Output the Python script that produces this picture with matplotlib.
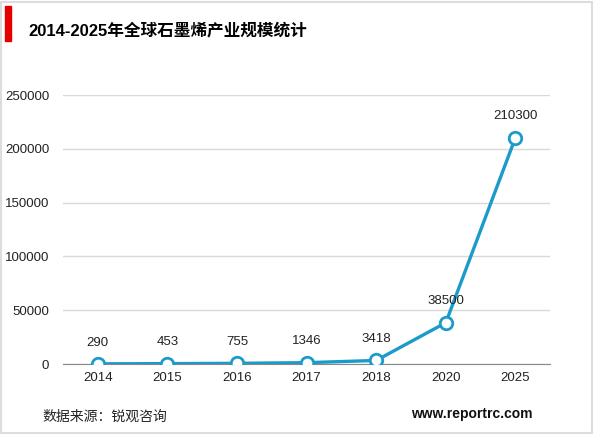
import matplotlib
matplotlib.use('Agg')
import matplotlib.pyplot as plt
from matplotlib.patches import Rectangle

plt.rcParams['font.family'] = ['Liberation Sans', 'Noto Sans CJK SC', 'DejaVu Sans']

years = ['2014', '2015', '2016', '2017', '2018', '2020', '2025']
values = [290, 453, 755, 1346, 3418, 38500, 210300]
yticks = [0, 50000, 100000, 150000, 200000, 250000]

line_color = '#1b9bc9'

fig = plt.figure(figsize=(6, 4.34), dpi=100)
ax = fig.add_axes([0.105, 0.161, 0.812, 0.62])

x = list(range(len(years)))
ax.plot(x, values, color=line_color, linewidth=2.4, marker='o', markersize=9,
        markerfacecolor='white', markeredgecolor=line_color, markeredgewidth=2, zorder=3)

for xi, v in zip(x, values):
    ax.annotate(str(v), (xi, v), xytext=(0, 11), textcoords='offset points',
                ha='center', va='bottom', fontsize=9.5, color='#222222')

ax.set_xlim(-0.5, len(years) - 0.5)
ax.set_ylim(0, 250000)
ax.set_yticks(yticks)
ax.set_yticklabels([str(t) for t in yticks])
ax.set_xticks(x)
ax.set_xticklabels(years)
ax.tick_params(axis='both', length=0, labelsize=9.5, colors='#222222')
ax.tick_params(axis='y', pad=10)
ax.tick_params(axis='x', pad=6)
ax.grid(axis='y', color='#d9d9d9', linewidth=1)
for s in ['top', 'right', 'left']:
    ax.spines[s].set_visible(False)
ax.spines['bottom'].set_color('#888888')
ax.set_axisbelow(True)

# 左上の赤いバーとタイトル
fig.patches.append(Rectangle((0.008, 0.905), 0.01, 0.082, transform=fig.transFigure,
                             color='#e60000'))
fig.text(0.047, 0.93, '2014-2025年全球石墨烯产业规模统计', fontsize=12, fontweight='bold',
         family=['Liberation Sans', 'Noto Sans CJK SC'], va='center')

fig.text(0.07, 0.039, '数据来源：锐观咨询', fontsize=10,
         family=['Noto Sans CJK SC'], va='center', color='#222222')
fig.text(0.887, 0.046, 'www.reportrc.com', fontsize=10, fontweight='bold',
         ha='right', va='center', color='#111111')

# 外枠
fig.patches.append(Rectangle((0.002, 0.002), 0.985, 0.993, transform=fig.transFigure,
                             fill=False, edgecolor='#dddddd', linewidth=1.5))

fig.savefig('out.png', dpi=100)
